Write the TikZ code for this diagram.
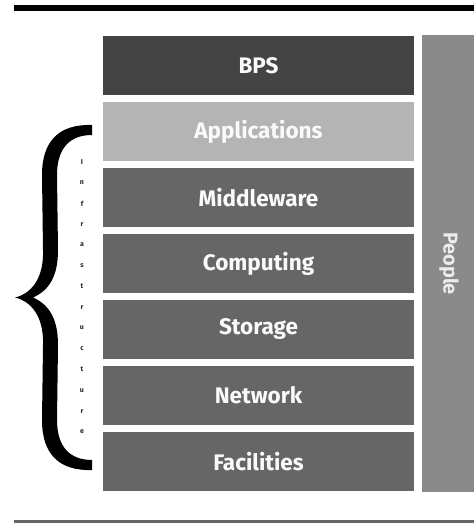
\documentclass[tikz,border=0pt]{standalone}
\usepackage{fontspec}
\setmainfont{Fira Sans}
\definecolor{layerdark}{HTML}{444444}
\definecolor{layermid}{HTML}{666666}
\definecolor{layerlight}{HTML}{B4B4B4}
\definecolor{peoplegray}{HTML}{8A8A8A}
\definecolor{rulegray}{HTML}{666666}
\tikzset{
  layer/.style={rectangle, minimum width=311pt, minimum height=59pt, inner sep=0pt,
    text=white!96!gray, font=\fontsize{22.5}{26}\selectfont\bfseries},
  peoplebox/.style={rectangle, minimum width=54pt, minimum height=457pt, inner sep=0pt,
    fill=peoplegray, text=white!85!gray, font=\fontsize{20}{22}\selectfont\bfseries},
  tinyletter/.style={inner sep=0pt, text=black!85, font=\fontsize{7}{7}\selectfont\bfseries}
}
\begin{document}
\begin{tikzpicture}[x=1pt,y=-1pt]
  \useasboundingbox (0,0) rectangle (474,523);
  % frame rules
  \draw[line width=6pt, black] (14,8) -- (474,8);
  \draw[line width=3pt, rulegray] (14,521.5) -- (474,521.5);

  % layer stack
  \node[layer, fill=layerdark]  (bps)  at (258.5, 65.5) {BPS};
  \node[layer, fill=layerlight] (app)  at (258.5,131.5) {Applications};
  \node[layer, fill=layermid]   (mid)  at (258.5,197.5) {Middleware};
  \node[layer, fill=layermid]   (comp) at (258.5,263.5) {Computing};
  \node[layer, fill=layermid]   (stor) at (258.5,329.5) {Storage};
  \node[layer, fill=layermid]   (net)  at (258.5,395.5) {Network};
  \node[layer, fill=layermid]   (fac)  at (258.5,461.5) {Facilities};

  % people column
  \node[peoplebox] (people) at (449,263.5) {\rotatebox{-90}{People}};

  % curly brace
  \fill[black]
    (92,125) .. controls (60,124) and (42,140) .. (42,175)
    -- (43,250) .. controls (44,280) and (30,294) .. (15,297.5)
    .. controls (30,301) and (44,315) .. (43,345)
    -- (42,420) .. controls (42,455) and (60,471) .. (92,470)
    -- (92,460) .. controls (70,460) and (57,447) .. (57,420)
    -- (58,345) .. controls (58,320) and (50,305) .. (33,297.5)
    .. controls (50,290) and (58,275) .. (58,250)
    -- (57,175) .. controls (57,148) and (70,135) .. (92,135) -- cycle;

  % stacked label
  \foreach \ch [count=\i from 0] in {I,n,f,r,a,s,t,r,u,c,t,u,r,e}
    \node[tinyletter] (lt\i) at (82,162+20.77*\i) {\ch};
\end{tikzpicture}
\end{document}
